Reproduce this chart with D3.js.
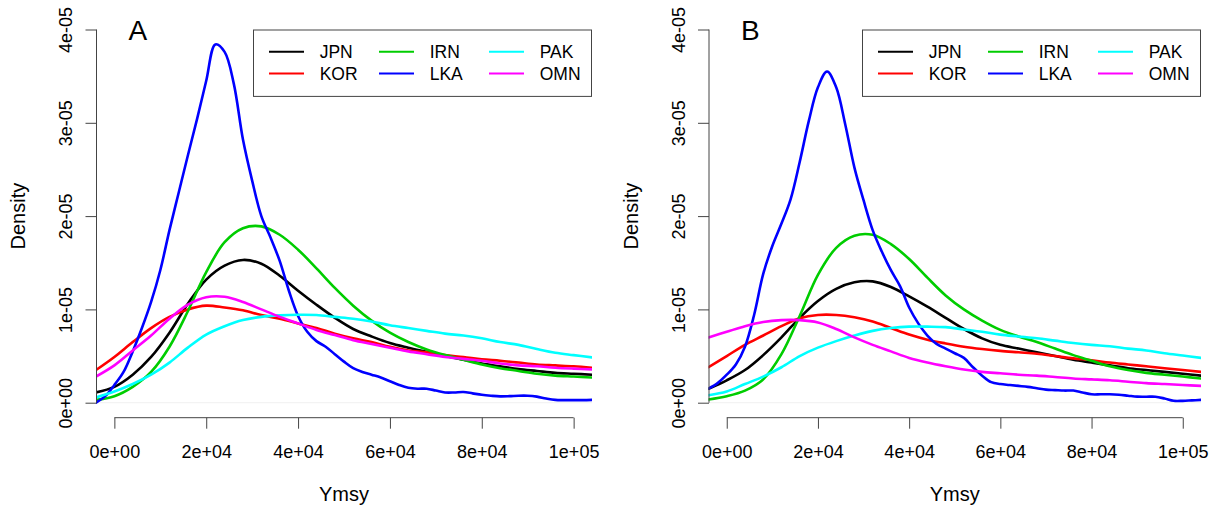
<!DOCTYPE html>
<html>
<head>
<meta charset="utf-8">
<script src="https://cdn.jsdelivr.net/npm/d3@7"></script>
<style>
  html, body { margin: 0; padding: 0; background: #ffffff; }
  svg { display: block; font-family: "Liberation Sans", Arial, Helvetica, sans-serif; }
</style>
</head>
<body>
<svg id="chart" width="1216" height="510"></svg>
<script>
// Ymsy evaluation grids (coarse grid for smooth densities, fine grid for LKA)
const ymsyCoarse = [-4000, 0, 4000, 8000, 12000, 16000, 20000, 24000, 28000, 32000, 36000, 40000,
  44000, 48000, 52000, 56000, 60000, 64000, 68000, 72000, 76000, 80000, 84000, 88000, 92000,
  96000, 100000, 104000];
const ymsyFine = [-4000, -2000, 0, 2000, 4000, 6000, 8000, 10000, 12000, 14000, 16000, 18000,
  20000, 22000, 24000, 26000, 28000, 30000, 32000, 34000, 36000, 38000, 40000, 42000, 44000,
  46000, 48000, 50000, 52000, 54000, 56000, 58000, 60000, 62000, 64000, 66000, 68000, 70000,
  72000, 74000, 76000, 78000, 80000, 82000, 84000, 86000, 88000, 90000, 92000, 94000, 96000,
  98000, 100000, 102000, 104000];

const countries = ["JPN", "KOR", "IRN", "LKA", "PAK", "OMN"];
const countryColors = ["#000000", "#ff0000", "#00cd00", "#0000ff", "#00ffff", "#ff00ff"];

// density values, in units of 1e-05
const densityUnit = 1e-5;

// Panel A
const jpnA = [0.11, 0.17, 0.30, 0.49, 0.75, 1.06, 1.32, 1.47, 1.53, 1.49, 1.36, 1.20, 1.05, 0.91,
  0.79, 0.71, 0.64, 0.59, 0.545, 0.50, 0.46, 0.42, 0.39, 0.36, 0.34, 0.32, 0.31, 0.30];
const korA = [0.35, 0.49, 0.65, 0.80, 0.92, 1.00, 1.04, 1.02, 0.99, 0.94, 0.90, 0.85, 0.80, 0.74,
  0.69, 0.65, 0.60, 0.56, 0.54, 0.51, 0.49, 0.465, 0.45, 0.43, 0.41, 0.40, 0.39, 0.375];
const irnA = [0.03, 0.07, 0.17, 0.33, 0.60, 0.98, 1.40, 1.72, 1.87, 1.89, 1.80, 1.64, 1.44, 1.23,
  1.04, 0.88, 0.75, 0.65, 0.57, 0.51, 0.46, 0.41, 0.37, 0.34, 0.31, 0.29, 0.28, 0.27];
const lkaA = [0.00, 0.07, 0.19, 0.33, 0.55, 0.80, 1.08, 1.42, 1.85, 2.25, 2.65, 3.04, 3.45, 3.84,
  3.76, 3.42, 2.82, 2.38, 2.00, 1.77, 1.52, 1.20, 0.93, 0.76, 0.66, 0.60, 0.52, 0.44, 0.37, 0.33,
  0.30, 0.27, 0.23, 0.19, 0.16, 0.15, 0.15, 0.13, 0.11, 0.11, 0.115, 0.10, 0.085, 0.075, 0.068,
  0.07, 0.075, 0.075, 0.065, 0.045, 0.03, 0.028, 0.028, 0.028, 0.03];
const pakA = [0.057, 0.12, 0.20, 0.30, 0.43, 0.59, 0.73, 0.82, 0.886, 0.92, 0.936, 0.943, 0.94,
  0.92, 0.90, 0.87, 0.83, 0.80, 0.77, 0.74, 0.72, 0.69, 0.65, 0.62, 0.575, 0.535, 0.51, 0.486];
const omnA = [0.28, 0.40, 0.56, 0.72, 0.90, 1.05, 1.13, 1.135, 1.08, 1.00, 0.92, 0.85, 0.78,
  0.725, 0.67, 0.63, 0.59, 0.55, 0.52, 0.49, 0.47, 0.45, 0.42, 0.40, 0.39, 0.375, 0.365, 0.357];

// Panel B
const jpnB = [0.15, 0.24, 0.35, 0.51, 0.70, 0.91, 1.09, 1.22, 1.29, 1.30, 1.24, 1.14, 1.03, 0.91,
  0.79, 0.69, 0.62, 0.58, 0.54, 0.50, 0.46, 0.43, 0.40, 0.37, 0.35, 0.33, 0.31, 0.29];
const korB = [0.38, 0.50, 0.62, 0.72, 0.82, 0.905, 0.94, 0.94, 0.915, 0.87, 0.80, 0.73, 0.675,
  0.635, 0.60, 0.575, 0.555, 0.54, 0.525, 0.50, 0.475, 0.455, 0.43, 0.41, 0.39, 0.37, 0.35, 0.33];
const irnB = [0.035, 0.07, 0.13, 0.25, 0.52, 0.93, 1.37, 1.66, 1.79, 1.80, 1.70, 1.54, 1.34,
  1.15, 1.00, 0.88, 0.78, 0.71, 0.65, 0.58, 0.51, 0.45, 0.39, 0.35, 0.32, 0.30, 0.28, 0.26];
const lkaB = [0.15, 0.21, 0.30, 0.41, 0.60, 0.94, 1.38, 1.68, 1.92, 2.18, 2.58, 3.02, 3.38, 3.55,
  3.38, 2.98, 2.52, 2.17, 1.85, 1.62, 1.42, 1.25, 1.02, 0.85, 0.72, 0.63, 0.58, 0.53, 0.48, 0.38,
  0.29, 0.22, 0.20, 0.19, 0.18, 0.17, 0.155, 0.14, 0.135, 0.13, 0.13, 0.11, 0.09, 0.09, 0.09,
  0.085, 0.075, 0.065, 0.064, 0.064, 0.045, 0.02, 0.02, 0.025, 0.03];
const pakB = [0.08, 0.12, 0.20, 0.28, 0.38, 0.50, 0.59, 0.66, 0.72, 0.77, 0.80, 0.815, 0.815,
  0.81, 0.785, 0.76, 0.73, 0.71, 0.69, 0.665, 0.64, 0.62, 0.605, 0.58, 0.56, 0.53, 0.505, 0.48];
const omnB = [0.70, 0.76, 0.82, 0.865, 0.885, 0.885, 0.86, 0.79, 0.70, 0.62, 0.55, 0.48, 0.43,
  0.39, 0.355, 0.33, 0.315, 0.30, 0.29, 0.275, 0.26, 0.25, 0.24, 0.225, 0.21, 0.20, 0.19, 0.18];

const xTickValues = [0, 20000, 40000, 60000, 80000, 100000];
const xTickLabels = ["0e+00", "2e+04", "4e+04", "6e+04", "8e+04", "1e+05"];
const yTickValues = [0, 1e-5, 2e-5, 3e-5, 4e-5];
const yTickLabels = ["0e+00", "1e-05", "2e-05", "3e-05", "4e-05"];

const xDomain = [-4000, 104000];
const yDomain = [0, 4e-5];

const panels = [
  { label: "A", left: 96, right: 592,
    series: [[jpnA, ymsyCoarse], [korA, ymsyCoarse], [irnA, ymsyCoarse],
             [lkaA, ymsyFine], [pakA, ymsyCoarse], [omnA, ymsyCoarse]] },
  { label: "B", left: 708.5, right: 1201,
    series: [[jpnB, ymsyCoarse], [korB, ymsyCoarse], [irnB, ymsyCoarse],
             [lkaB, ymsyFine], [pakB, ymsyCoarse], [omnB, ymsyCoarse]] }
];

const plotTop = 29.5, plotBottom = 402.7;
const axisColor = "#444444";
const svg = d3.select("#chart");

panels.forEach((p, pi) => {
  const x = d3.scaleLinear().domain(xDomain).range([p.left, p.right]);
  const y = d3.scaleLinear().domain(yDomain).range([plotBottom, plotTop]);
  const g = svg.append("g");

  // faint zero line at the bottom of the plotting region
  g.append("line")
    .attr("x1", p.left).attr("x2", p.right)
    .attr("y1", y(0)).attr("y2", y(0))
    .attr("stroke", "#f0f0f0").attr("stroke-width", 1);

  // clip for the density curves
  const clipId = "clip" + pi;
  svg.append("clipPath").attr("id", clipId)
    .append("rect")
    .attr("x", p.left).attr("y", plotTop - 2)
    .attr("width", p.right - p.left).attr("height", plotBottom - plotTop + 4);

  const line = d3.line()
    .x(d => x(d[0]))
    .y(d => y(Math.max(0, d[1]) * densityUnit))
    .curve(d3.curveCatmullRom.alpha(0.5));

  const curves = g.append("g").attr("clip-path", `url(#${clipId})`);
  p.series.forEach(([vals, grid], i) => {
    curves.append("path")
      .datum(grid.map((v, k) => [v, vals[k]]))
      .attr("d", line)
      .attr("fill", "none")
      .attr("stroke", countryColors[i])
      .attr("stroke-width", 2.6)
      .attr("stroke-linejoin", "round")
      .attr("stroke-linecap", "round");
  });

  // y axis
  const yAxis = g.append("g")
    .attr("transform", `translate(${p.left + 0.5},0)`)
    .call(d3.axisLeft(y).tickValues(yTickValues).tickSize(11).tickSizeOuter(0)
      .tickFormat((d, i) => yTickLabels[i]));
  yAxis.select(".domain").remove();
  yAxis.append("line")
    .attr("x1", 0).attr("x2", 0).attr("y1", y(yDomain[0])).attr("y2", y(yDomain[1]))
    .attr("stroke", axisColor);
  yAxis.selectAll(".tick line").attr("stroke", axisColor);
  yAxis.selectAll(".tick text")
    .attr("x", null).attr("dy", null)
    .attr("transform", "translate(-24.5,0) rotate(-90)")
    .attr("text-anchor", "middle")
    .attr("fill", "#000")
    .style("font-size", "18px")
    .style("font-family", "\"Liberation Sans\", Arial, Helvetica, sans-serif");

  // x axis, drawn a little below the plotting region
  const xAxisY = 417.7;
  const xAxis = g.append("g")
    .attr("transform", `translate(0,${xAxisY})`)
    .call(d3.axisBottom(x).tickValues(xTickValues).tickSize(11).tickSizeOuter(0)
      .tickFormat((d, i) => xTickLabels[i]));
  xAxis.select(".domain").remove();
  xAxis.append("line")
    .attr("x1", x(xTickValues[0])).attr("x2", x(xTickValues[xTickValues.length - 1]))
    .attr("y1", 0).attr("y2", 0)
    .attr("stroke", axisColor);
  xAxis.selectAll(".tick line").attr("stroke", axisColor);
  xAxis.selectAll(".tick text")
    .attr("y", 40.6).attr("dy", null)
    .attr("fill", "#000")
    .style("font-size", "18px")
    .style("font-family", "\"Liberation Sans\", Arial, Helvetica, sans-serif");

  // axis titles
  g.append("text")
    .attr("x", (p.left + p.right) / 2).attr("y", 500.5)
    .attr("text-anchor", "middle")
    .style("font-size", "20px")
    .text("Ymsy");
  g.append("text")
    .attr("transform", `translate(${p.left - 71},${(plotTop + plotBottom) / 2}) rotate(-90)`)
    .attr("text-anchor", "middle")
    .style("font-size", "20px")
    .text("Density");

  // panel letter
  g.append("text")
    .attr("x", p.left + 32.5).attr("y", 40)
    .style("font-size", "28px")
    .text(p.label);

  // legend
  const legW = 338, legH = 66.4;
  const legX = p.right - 1 - legW, legY = plotTop;
  const leg = g.append("g").attr("transform", `translate(${legX},${legY})`);
  leg.append("rect")
    .attr("x", 0.5).attr("y", 0.5).attr("width", legW).attr("height", legH)
    .attr("fill", "#fff").attr("stroke", axisColor).attr("stroke-width", 1);
  countries.forEach((c, i) => {
    const col = Math.floor(i / 2), row = i % 2;
    const lx = 16 + col * 110, ly = 22.2 + row * 21.8;
    leg.append("line")
      .attr("x1", lx).attr("x2", lx + 35).attr("y1", ly).attr("y2", ly)
      .attr("stroke", countryColors[i]).attr("stroke-width", 2);
    leg.append("text")
      .attr("x", lx + 50.7).attr("y", ly + 6.2)
      .style("font-size", "17.5px")
      .text(c);
  });
});
</script>
</body>
</html>
